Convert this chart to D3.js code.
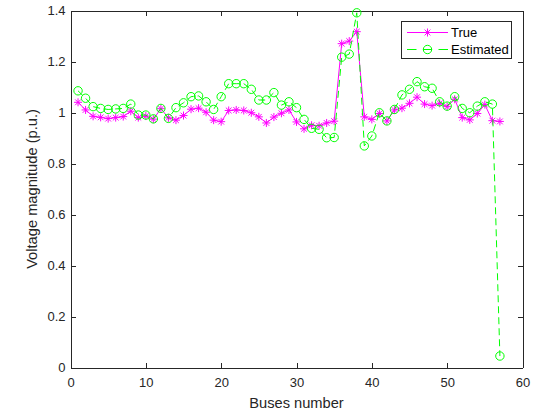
<!DOCTYPE html>
<html>
<head>
    <meta charset="UTF-8">
    <title>Voltage magnitude</title>
</head>
<style>
    body { margin: 0; background: #fff; }
    svg { display: block; font-family: "Liberation Sans", Arial, sans-serif; }
    .axis path, .axis line { stroke: #262626; stroke-width: 1; shape-rendering: crispEdges; }
    .axis text { fill: #262626; font-size: 13px; font-family: "Liberation Sans", Arial, sans-serif; }
</style>
<body>
<svg width="551" height="414"></svg>
<script src="https://d3js.org/d3.v7.min.js"></script>
<script>

    // bus numbers 1..57
    var buses = d3.range(1, 58);

    var trueV = [1.040, 1.010, 0.985, 0.981, 0.976, 0.980, 0.984, 1.005, 0.980, 0.986,
        0.974, 1.015, 0.979, 0.970, 0.988, 1.013, 1.017, 1.001, 0.970, 0.964,
        1.008, 1.010, 1.008, 0.999, 0.983, 0.959, 0.982, 0.997, 1.010, 0.963,
        0.936, 0.950, 0.948, 0.959, 0.966, 1.270, 1.280, 1.317, 0.983, 0.973,
        0.996, 0.967, 1.010, 1.017, 1.036, 1.060, 1.033, 1.027, 1.036, 1.023,
        1.052, 0.980, 0.971, 0.996, 1.031, 0.968, 0.965];

    var estV = [1.085, 1.056, 1.023, 1.016, 1.012, 1.014, 1.016, 1.033, 0.990, 0.990,
        0.975, 1.016, 0.977, 1.019, 1.038, 1.062, 1.065, 1.042, 1.012, 1.062,
        1.113, 1.113, 1.113, 1.091, 1.049, 1.049, 1.078, 1.029, 1.042, 1.019,
        0.973, 0.938, 0.934, 0.901, 0.902, 1.217, 1.229, 1.391, 0.869, 0.908,
        0.999, 0.967, 1.012, 1.069, 1.091, 1.121, 1.101, 1.095, 1.042, 1.025,
        1.062, 1.016, 0.999, 1.025, 1.042, 1.033, 0.045];

    var xTicks = [0, 10, 20, 30, 40, 50, 60];
    var yTicks = [0, 0.2, 0.4, 0.6, 0.8, 1, 1.2, 1.4];
    var seriesNames = ["True", "Estimated"];

    var svg = d3.select("svg");
    var axL = 70.5, axR = 522.5, axT = 10.5, axB = 367.5;

    var x = d3.scaleLinear().domain([0, 60]).range([axL, axR]);
    var y = d3.scaleLinear().domain([0, 1.4]).range([axB, axT]);

    var magenta = "#ff00ff", green = "#00ff00";
    var circR = 4.2;

    // axes box with inward ticks
    svg.append("g").attr("class", "axis")
        .attr("transform", "translate(0," + axB + ")")
        .call(d3.axisBottom(x).tickValues(xTicks).tickSizeInner(-5).tickSizeOuter(0).tickPadding(10));
    svg.append("g").attr("class", "axis")
        .attr("transform", "translate(0," + axT + ")")
        .call(d3.axisTop(x).tickValues(xTicks).tickSizeInner(-5).tickSizeOuter(0).tickFormat(""));
    svg.append("g").attr("class", "axis")
        .attr("transform", "translate(" + axL + ",0)")
        .call(d3.axisLeft(y).tickValues(yTicks).tickSizeInner(-5).tickSizeOuter(0).tickPadding(5)
            .tickFormat(function(d) { return d3.format("~g")(d); }));
    svg.append("g").attr("class", "axis")
        .attr("transform", "translate(" + axR + ",0)")
        .call(d3.axisRight(y).tickValues(yTicks).tickSizeInner(-5).tickSizeOuter(0).tickFormat(""));

    // axis labels
    svg.append("text")
        .attr("x", (axL + axR) / 2)
        .attr("y", 408)
        .attr("text-anchor", "middle")
        .attr("fill", "#262626")
        .attr("font-size", "14.67px")
        .text("Buses number");

    svg.append("text")
        .attr("transform", "translate(36.5," + (axT + axB) / 2 + ") rotate(-90)")
        .attr("text-anchor", "middle")
        .attr("fill", "#262626")
        .attr("font-size", "14.67px")
        .text("Voltage magnitude (p.u.)");

    function star(g, cx, cy) {
        var r = 4, d = r * 0.72;
        g.append("path")
            .attr("d", "M" + (cx - r) + "," + cy + "h" + (2 * r) +
                "M" + cx + "," + (cy - r) + "v" + (2 * r) +
                "M" + (cx - d) + "," + (cy - d) + "l" + (2 * d) + "," + (2 * d) +
                "M" + (cx - d) + "," + (cy + d) + "l" + (2 * d) + "," + (-2 * d))
            .attr("stroke", magenta)
            .attr("stroke-width", 1)
            .attr("fill", "none");
    }

    var line = d3.line()
        .x(function(d, i) { return x(buses[i]); })
        .y(function(d) { return y(d); });

    var plot = svg.append("g");

    // True series
    plot.append("path")
        .datum(trueV)
        .attr("d", line)
        .attr("fill", "none")
        .attr("stroke", magenta)
        .attr("stroke-width", 1);
    var stars = plot.append("g");
    trueV.forEach(function(v, i) { star(stars, x(buses[i]), y(v)); });

    // Estimated series
    plot.append("path")
        .datum(estV)
        .attr("d", line)
        .attr("fill", "none")
        .attr("stroke", green)
        .attr("stroke-width", 1)
        .attr("stroke-dasharray", "7,4");
    plot.append("g")
        .selectAll("circle")
        .data(estV)
        .enter().append("circle")
        .attr("cx", function(d, i) { return x(buses[i]); })
        .attr("cy", function(d) { return y(d); })
        .attr("r", circR)
        .attr("fill", "none")
        .attr("stroke", green)
        .attr("stroke-width", 1);

    // legend
    var lg = svg.append("g");
    lg.append("rect")
        .attr("x", 401.5).attr("y", 21.5)
        .attr("width", 110).attr("height", 37)
        .attr("fill", "#fff")
        .attr("stroke", "#262626")
        .attr("stroke-width", 1);

    lg.append("line")
        .attr("x1", 407).attr("x2", 448).attr("y1", 32.5).attr("y2", 32.5)
        .attr("stroke", magenta).attr("stroke-width", 1);
    star(lg, 427.5, 32.5);

    [[407, 416.5], [423, 432], [438.5, 448]].forEach(function(s) {
        lg.append("line")
            .attr("x1", s[0]).attr("x2", s[1]).attr("y1", 49.5).attr("y2", 49.5)
            .attr("stroke", green).attr("stroke-width", 1);
    });
    lg.append("circle")
        .attr("cx", 427.5).attr("cy", 49.5).attr("r", circR)
        .attr("fill", "none").attr("stroke", green).attr("stroke-width", 1);

    lg.selectAll("text.lbl")
        .data(seriesNames)
        .enter().append("text")
        .attr("class", "lbl")
        .attr("x", 451)
        .attr("y", function(d, i) { return 37 + i * 17; })
        .attr("fill", "#000")
        .attr("font-size", "13px")
        .text(function(d) { return d; });

</script>
</body>
</html>
